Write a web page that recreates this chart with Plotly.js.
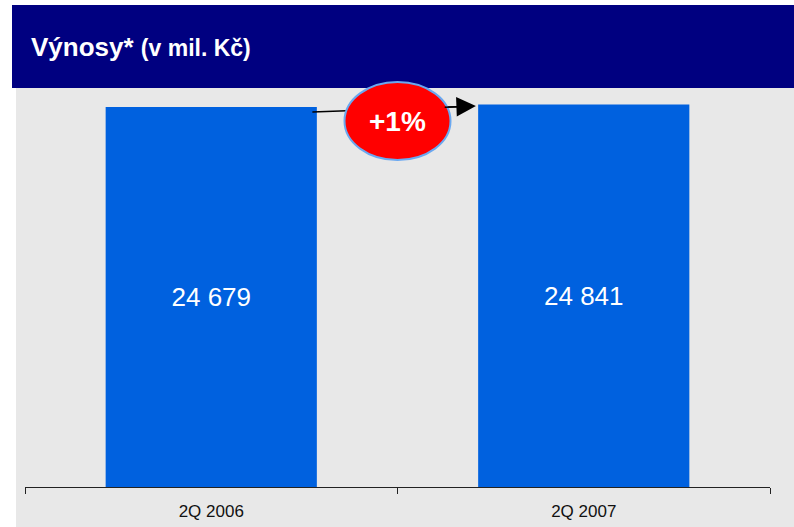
<!DOCTYPE html>
<html>
<head>
<meta charset="utf-8">
<script src="https://cdn.plot.ly/plotly-3.0.1.min.js"></script>
<style>html,body{margin:0;padding:0;background:#fff;}#chart{width:794px;height:527px;}</style>
</head>
<body>
<div id="chart"></div>
<script>
const categories = ["2Q 2006", "2Q 2007"];
const revenues = [24679, 24841];
const titleMain = "Výnosy*";
const titleSub = "(v mil. Kč)";

const change = Math.round((revenues[1] / revenues[0] - 1) * 100);
const changeLabel = (change >= 0 ? "+" : "") + change + "%";

const barWidth = 0.567;
const yMax = 25912;

// arrow geometry (data units, derived from the bars)
const arrowTailX = barWidth / 2 - 0.012;
const arrowTailY = revenues[0] * 0.987;
const arrowHeadX = 1 - barWidth / 2 - 0.006;
const arrowHeadY = revenues[1] * 0.996;
function along(f) {
  return [arrowTailX + (arrowHeadX - arrowTailX) * f, arrowTailY + (arrowHeadY - arrowTailY) * f];
}
const lineEnd = along(0.93);
const headStart = along(0.8);

const trace = {
  type: "bar",
  x: categories,
  y: revenues,
  width: barWidth,
  marker: {color: "#0061df", line: {width: 0}},
  texttemplate: "%{y:,.0f}",
  textposition: "inside",
  insidetextanchor: "middle",
  constraintext: "none",
  textangle: 0,
  textfont: {family: "Liberation Sans, Arial, sans-serif", size: 26, color: "#ffffff"},
  hoverinfo: "skip"
};

const layout = {
  width: 794,
  height: 527,
  margin: {l: 25, r: 24, t: 88, b: 40, pad: 0},
  paper_bgcolor: "#ffffff",
  plot_bgcolor: "#e8e8e8",
  separators: ", ",
  showlegend: false,
  font: {family: "Liberation Sans, Arial, sans-serif", color: "#000"},
  title: {
    text: "<b>" + titleMain + "</b> <b><span style='font-size:23px'>" + titleSub + "</span></b>",
    font: {family: "Liberation Sans, Arial, sans-serif", size: 26, color: "#ffffff"},
    xref: "container", yref: "container",
    x: 31 / 794, xanchor: "left",
    y: 1 - 47 / 527, yanchor: "middle"
  },
  xaxis: {
    type: "category",
    range: [-0.5, 1.5],
    showline: true, linecolor: "#222", linewidth: 1,
    ticks: "outside", tickson: "boundaries", ticklen: 6, tickcolor: "#222", tickwidth: 1,
    showgrid: false, zeroline: false,
    tickfont: {size: 17, color: "#111"},
    ticklabelstandoff: 9,
    fixedrange: true
  },
  yaxis: {
    range: [0, yMax],
    visible: false, showgrid: false, zeroline: false, fixedrange: true
  },
  shapes: [
    {type: "rect", xref: "paper", yref: "paper", layer: "below",
     x0: (16 - 25) / 745, x1: (794 - 25) / 745, y0: -40 / 399, y1: 1,
     fillcolor: "#e8e8e8", line: {width: 0}},
    {type: "rect", xref: "paper", yref: "paper", layer: "above",
     x0: (12 - 25) / 745, x1: (794 - 25) / 745, y0: 1, y1: 1 + 83 / 399,
     fillcolor: "#000080", line: {width: 0}},
    {type: "line", xref: "x", yref: "y", layer: "above",
     x0: arrowTailX, y0: arrowTailY, x1: lineEnd[0], y1: lineEnd[1],
     line: {color: "#000", width: 1.5}},
    {type: "circle", xref: "x", yref: "paper", layer: "above",
     xsizemode: "pixel", xanchor: 0.5, x0: -53, x1: 53,
     ysizemode: "pixel", yanchor: (487 - 121) / 399, y0: -39, y1: 39,
     fillcolor: "#ff0000", line: {color: "#6aa8f0", width: 2}}
  ],
  annotations: [
    {xref: "x", yref: "y", axref: "x", ayref: "y",
     x: arrowHeadX, y: arrowHeadY,
     ax: headStart[0], ay: headStart[1],
     showarrow: true, arrowhead: 2, arrowsize: 2.6, arrowwidth: 1.5, arrowcolor: "#000",
     text: ""},
    {xref: "x", yref: "paper", x: 0.5, y: (487 - 121) / 399,
     text: "<b>" + changeLabel + "</b>", showarrow: false,
     font: {family: "Liberation Sans, Arial, sans-serif", size: 28, color: "#ffffff"},
     xanchor: "center", yanchor: "middle"}
  ]
};

Plotly.newPlot("chart", [trace], layout, {displayModeBar: false, staticPlot: true});
</script>
</body>
</html>
